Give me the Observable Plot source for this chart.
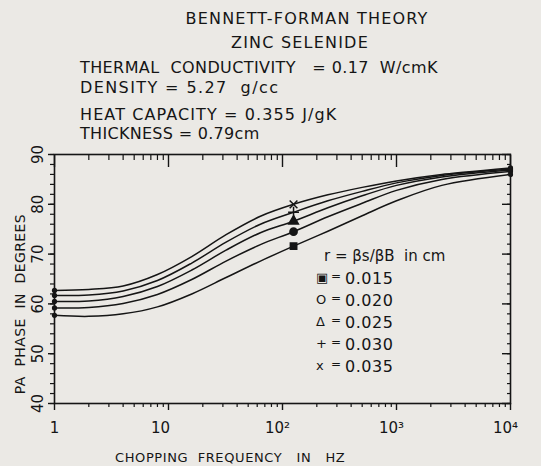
<!DOCTYPE html>
<html><head><meta charset="utf-8">
<script src="https://cdn.jsdelivr.net/npm/d3@7"></script>
<script src="https://cdn.jsdelivr.net/npm/@observablehq/plot@0.6"></script>
<style>
body{margin:0;background:#ebe9e5;}
#wrap{position:relative;width:541px;height:466px;font-family:"DejaVu Sans",sans-serif;color:#151515;overflow:hidden}
#wrap svg{position:absolute;left:0;top:0}
.t{position:absolute;white-space:pre;font-size:16px;letter-spacing:1.2px;line-height:1}
.c{transform:translateX(-50%)}
.lg{position:absolute;white-space:pre;font-size:16px;line-height:1}
</style></head><body><div id="wrap"></div>
<script>
// ---- data ----
const freqs = [1, 2, 4, 8, 16, 32, 64, 125, 250, 500, 1000, 2500, 10000];
const r015 = [57.7, 57.5, 58.0, 59.4, 62.0, 65.3, 68.6, 71.6, 74.6, 77.7, 80.7, 83.8, 86.0];
const r020 = [59.2, 59.3, 60.1, 61.9, 64.9, 68.6, 71.9, 74.5, 77.5, 80.2, 82.8, 85.0, 86.6];
const r025 = [60.5, 60.6, 61.5, 63.5, 66.8, 70.8, 74.3, 76.6, 79.3, 81.7, 83.8, 85.5, 86.9];
const r030 = [61.7, 61.8, 62.6, 64.7, 68.2, 72.4, 76.0, 78.4, 80.7, 82.6, 84.3, 85.8, 87.1];
const r035 = [62.7, 62.9, 63.6, 65.9, 69.5, 73.9, 77.6, 80.0, 81.9, 83.4, 84.7, 86.0, 87.3];
const rLabels = ["0.015", "0.020", "0.025", "0.030", "0.035"];
const rSymbols = ["square", "circle", "triangle", "plus", "times"];
const legendGlyphs = ["\u25A3", "O", "\u0394", "+", "x"];
const markerFreq = 125;
const endFreqs = [1, 10000];
const xMajor = [1, 10, 100, 1000, 10000];
const xTickLabels = ["1", "10", "10\u00B2", "10\u00B3", "10\u2074"];
const yMajor = [40, 50, 60, 70, 80, 90];
const titleLines = ["BENNETT-FORMAN THEORY", "ZINC SELENIDE"];
const propLines = ["THERMAL  CONDUCTIVITY   = 0.17  W/cmK", "DENSITY = 5.27  g/cc", "HEAT CAPACITY = 0.355 J/gK", "THICKNESS = 0.79cm"];
const xLabel = "CHOPPING  FREQUENCY   IN   HZ";
const yLabel = "PA  PHASE  IN  DEGREES";
const legendTitle = "r = \u03B2s/\u03B2B  in cm";

// ---- build table ----
const seriesVals = [r015, r020, r025, r030, r035];
const rows = seriesVals.flatMap((vals, k) => freqs.map((f, i) => ({f, v: vals[i], r: rLabels[k], sym: rSymbols[k]})));
const midMarkers = rows.filter(d => d.f === markerFreq);
const endMarkers = rows.filter(d => endFreqs.includes(d.f));
const xMinor = d3.range(0, 4).flatMap(e => d3.range(2, 10).map(m => m * 10 ** e));
const yMinor = d3.range(40, 91, 2);
const fmtX = d => xTickLabels[xMajor.indexOf(d)];

const ink = "#151515";
const chart = Plot.plot({
  width: 541, height: 466,
  marginTop: 154, marginBottom: 63, marginLeft: 54, marginRight: 31,
  style: {background: "transparent", fontFamily: "DejaVu Sans, sans-serif", color: ink, overflow: "visible"},
  x: {type: "log", domain: [1, 10000]},
  y: {domain: [40, 90]},
  symbol: {domain: rSymbols, range: rSymbols},
  marks: [
    Plot.frame({stroke: ink, strokeWidth: 1.6}),
    Plot.axisX({anchor: "bottom", ticks: xMajor, tickSize: 7, text: null, label: null, stroke: ink, strokeWidth: 1.4}),
    Plot.axisX({anchor: "bottom", ticks: xMajor.slice(0, 1), tickSize: 0, tickPadding: 19, fontSize: 15, tickFormat: fmtX, label: null}),
    Plot.axisX({anchor: "bottom", ticks: xMajor.slice(1, 2), tickSize: 0, tickPadding: 19, dx: -8, fontSize: 15, tickFormat: fmtX, label: null}),
    Plot.axisX({anchor: "bottom", ticks: xMajor.slice(2), tickSize: 0, tickPadding: 19, dx: -5, fontSize: 15, tickFormat: fmtX, label: null}),
    Plot.axisX({anchor: "bottom", ticks: xMinor, tickSize: 4, text: null, label: null, stroke: ink, strokeWidth: 1.2}),
    Plot.axisX({anchor: "top", ticks: xMajor, tickSize: -12, text: null, label: null, stroke: ink, strokeWidth: 1.4}),
    Plot.axisX({anchor: "top", ticks: xMinor, tickSize: -5, text: null, label: null, stroke: ink, strokeWidth: 1.2}),
    Plot.axisY({anchor: "left", ticks: yMajor, tickSize: 6, tickPadding: 6, tickRotate: -90, fontSize: 15,
      tickFormat: d => String(d), label: null, stroke: ink, strokeWidth: 1.4}),
    Plot.axisY({anchor: "left", ticks: yMinor, tickSize: 4, text: null, label: null, stroke: ink, strokeWidth: 1.2}),
    Plot.axisY({anchor: "right", ticks: yMajor, tickSize: -9, text: null, label: null, stroke: ink, strokeWidth: 1.4}),
    Plot.axisY({anchor: "right", ticks: yMinor, tickSize: -4, text: null, label: null, stroke: ink, strokeWidth: 1.2}),
    Plot.line(rows, {x: "f", y: "v", z: "r", curve: "catmull-rom", stroke: ink, strokeWidth: 1.5}),
    Plot.dot(midMarkers, {x: "f", y: "v", symbol: "sym", r: 3.6, fill: ink, stroke: ink, strokeWidth: 1.5}),
    Plot.dot(endMarkers, {x: "f", y: "v", r: 2.6, fill: ink})
  ]
});

const wrap = document.getElementById("wrap");
wrap.appendChild(chart);

function addText(txt, cls, left, top, extra) {
  const d = document.createElement("div");
  d.className = cls;
  d.textContent = txt;
  d.style.left = left + "px";
  d.style.top = top + "px";
  if (extra) Object.assign(d.style, extra);
  wrap.appendChild(d);
  return d;
}
addText(titleLines[0], "t c", 307, 11);
addText(titleLines[1], "t c", 300, 35);
addText(propLines[0], "t", 80, 60, {letterSpacing: "0.4px"});
addText(propLines[1], "t", 80, 80, {letterSpacing: "1.4px"});
addText(propLines[2], "t", 80, 107, {letterSpacing: "1.1px"});
addText(propLines[3], "t", 80, 126, {letterSpacing: "0.3px"});
// axis labels
addText(xLabel, "t", 115, 451, {fontSize: "13px", letterSpacing: "0.6px"});
const yl = addText(yLabel, "t", 20, 304, {fontSize: "14px", letterSpacing: "0.4px"});
yl.style.transform = "translate(-50%,-50%) rotate(-90deg)";
// legend
addText(legendTitle, "lg", 324, 249, {fontSize: "15px"});
const legendTops = [271, 293, 315, 337, 359];
rLabels.forEach((r, i) => {
  addText(legendGlyphs[i], "lg", 316, legendTops[i], {fontSize: "13px"});
  addText("=", "lg", 331, legendTops[i] - 1, {fontSize: "12px"});
  addText(r, "lg", 345, legendTops[i], {letterSpacing: "0.5px"});
});
</script></body></html>
